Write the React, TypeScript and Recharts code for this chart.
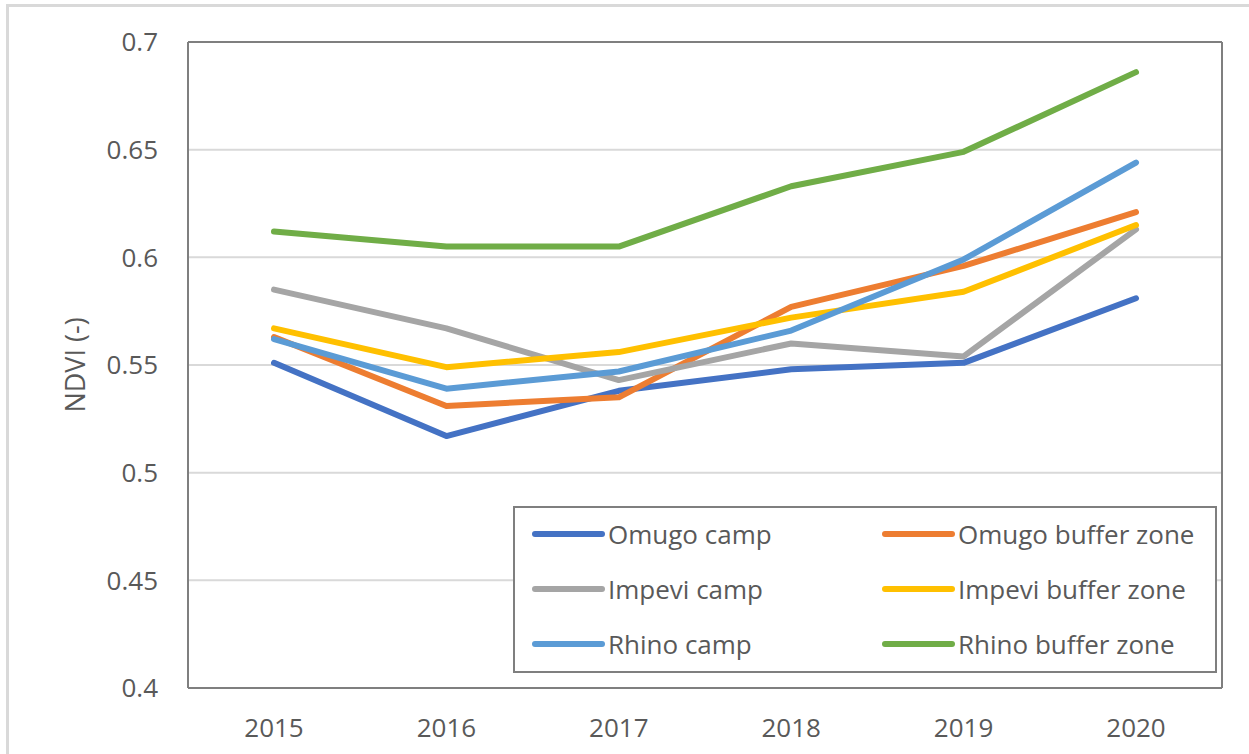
import React from "react";
import {
  LineChart,
  Line,
  XAxis,
  YAxis,
  CartesianGrid,
} from "recharts";

const years = ["2015", "2016", "2017", "2018", "2019", "2020"];

const omugoCamp = [0.551, 0.517, 0.538, 0.548, 0.551, 0.581];
const omugoBuffer = [0.563, 0.531, 0.535, 0.577, 0.596, 0.621];
const impeviCamp = [0.585, 0.567, 0.543, 0.56, 0.554, 0.613];
const impeviBuffer = [0.567, 0.549, 0.556, 0.572, 0.584, 0.615];
const rhinoCamp = [0.562, 0.539, 0.547, 0.566, 0.599, 0.644];
const rhinoBuffer = [0.612, 0.605, 0.605, 0.633, 0.649, 0.686];

const yTicks = [0.4, 0.45, 0.5, 0.55, 0.6, 0.65, 0.7];

const SERIES = [
  { key: "omugoCamp", name: "Omugo camp", values: omugoCamp, color: "#4472C4" },
  { key: "omugoBuffer", name: "Omugo buffer zone", values: omugoBuffer, color: "#ED7D31" },
  { key: "impeviCamp", name: "Impevi camp", values: impeviCamp, color: "#A5A5A5" },
  { key: "impeviBuffer", name: "Impevi buffer zone", values: impeviBuffer, color: "#FFC000" },
  { key: "rhinoCamp", name: "Rhino camp", values: rhinoCamp, color: "#5B9BD5" },
  { key: "rhinoBuffer", name: "Rhino buffer zone", values: rhinoBuffer, color: "#70AD47" },
];

const data = years.map((year, i) => {
  const row: Record<string, string | number> = { year };
  SERIES.forEach((s) => {
    row[s.key] = s.values[i];
  });
  return row;
});

const FONT = "'Open Sans', 'Noto Sans', sans-serif";
const TEXT = "#595959";
const BORDER = "#7f7f7f";

function YLabel(props: any) {
  const vb = props.viewBox || {};
  const x = 74;
  const y = (vb.y ?? 0) + (vb.height ?? 0) / 2;
  return (
    <text
      x={x}
      y={y}
      transform={`rotate(-90, ${x}, ${y})`}
      textAnchor="middle"
      dominantBaseline="central"
      fontSize={27}
      fill={TEXT}
      fontFamily={FONT}
    >
      NDVI (-)
    </text>
  );
}

function ChartLegend() {
  const rows = [0, 1, 2];
  return (
    <div
      style={{
        position: "absolute",
        left: 513,
        top: 506,
        width: 700,
        height: 163,
        border: `2px solid ${BORDER}`,
        background: "#fff",
        fontFamily: FONT,
        color: TEXT,
        fontSize: 26,
      }}
    >
      {rows.map((r) =>
        [0, 1].map((c) => {
          const s = SERIES[r * 2 + c];
          return (
            <div
              key={s.key}
              style={{
                display: "flex",
                alignItems: "center",
                position: "absolute",
                left: c === 0 ? 17 : 367,
                top: r * 55 + 6,
                height: 40,
              }}
            >
              <span
                style={{
                  display: "inline-block",
                  width: 73,
                  height: 6,
                  borderRadius: 3,
                  background: s.color,
                  marginRight: 3,
                }}
              />
              <span style={{ whiteSpace: "nowrap" }}>{s.name}</span>
            </div>
          );
        })
      )}
    </div>
  );
}

export default function App() {
  return (
    <div
      style={{
        position: "absolute",
        left: 0,
        top: 0,
        width: 1249,
        height: 754,
        background: "#fff",
        overflow: "hidden",
      }}
    >
      <div
        style={{
          position: "absolute",
          left: 6,
          top: 4,
          width: 1260,
          height: 780,
          borderLeft: "3px solid #d9d9d9",
          borderTop: "3px solid #d9d9d9",
        }}
      />
      <LineChart
        width={1249}
        height={754}
        data={data}
        margin={{ top: 41, right: 26, left: 0, bottom: 0 }}
        style={{ position: "absolute", left: 0, top: 0 }}
      >
        <CartesianGrid vertical={false} stroke="#d9d9d9" strokeWidth={2} />
        <XAxis
          dataKey="year"
          height={66}
          padding={{ left: 86, right: 86 }}
          tickLine={false}
          tickSize={0}
          tickMargin={31}
          axisLine={{ stroke: BORDER, strokeWidth: 2 }}
          tick={{ fill: TEXT, fontSize: 26, fontFamily: FONT }}
        />
        <XAxis
          xAxisId="top"
          dataKey="year"
          orientation="top"
          height={1}
          tick={false}
          tickLine={false}
          axisLine={{ stroke: BORDER, strokeWidth: 2 }}
        />
        <YAxis
          width={188}
          domain={[0.4, 0.7]}
          ticks={yTicks}
          tickLine={false}
          tickSize={0}
          tickMargin={30}
          axisLine={{ stroke: BORDER, strokeWidth: 2 }}
          tick={{ fill: TEXT, fontSize: 26, fontFamily: FONT }}
          tickFormatter={(v: number) => String(v)}
          label={<YLabel />}
        />
        <YAxis
          yAxisId="right"
          orientation="right"
          width={1}
          domain={[0.4, 0.7]}
          ticks={yTicks}
          tick={false}
          tickLine={false}
          axisLine={{ stroke: BORDER, strokeWidth: 2 }}
        />
        {SERIES.map((s) => (
          <Line
            key={s.key}
            type="linear"
            dataKey={s.key}
            name={s.name}
            stroke={s.color}
            strokeWidth={6}
            strokeLinecap="round"
            strokeLinejoin="round"
            dot={false}
            activeDot={false}
            isAnimationActive={false}
          />
        ))}
      </LineChart>
      <ChartLegend />
    </div>
  );
}
